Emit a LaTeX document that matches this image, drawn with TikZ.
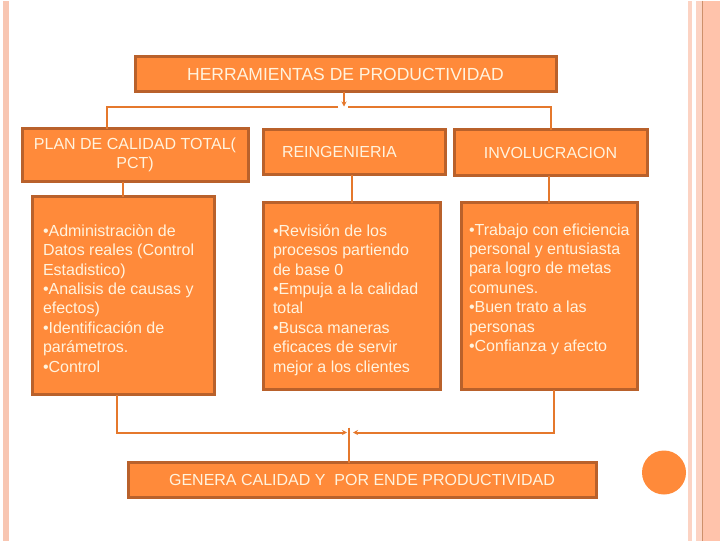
\documentclass[tikz,border=0pt]{standalone}
\usepackage{fontspec}
\setmainfont{Liberation Sans}
\usetikzlibrary{arrows.meta, positioning, calc}
\definecolor{cnaranja}{HTML}{FF8A3A}
\definecolor{cborde}{HTML}{B9612B}
\definecolor{clinea}{HTML}{E5782C}
\definecolor{ctexto}{HTML}{FFF3DE}
\definecolor{crosa}{HTML}{F8C6B2}
\definecolor{crosaclaro}{HTML}{FCD3C3}
\definecolor{crosamedio}{HTML}{FFC3AB}
\tikzset{
  every picture/.style={font=\fontsize{16}{19.4}\selectfont, line width=2pt},
  caja/.style={draw=cborde, fill=cnaranja, line width=3pt, text=ctexto, align=center, inner sep=0pt, outer sep=0pt},
  texto/.style={text=ctexto, align=left, inner sep=0pt},
  linea/.style={draw=clinea, line width=2pt},
  flecha/.style={-{Stealth[length=5pt, width=5pt]}, draw=clinea, line width=2pt},
  titulo/.style={font=\fontsize{17.5}{21}\selectfont},
}

\begin{document}
\begin{tikzpicture}[x=1pt, y=-1pt]
  \fill[white] (0,0) rectangle (720,540);
  \fill[crosa] (3,0) rectangle (9,540);
  \fill[crosaclaro] (688,0) rectangle (692,540);
  \fill[crosaclaro] (696,0) rectangle (702,540);
  \fill[crosamedio] (702,0) rectangle (720,540);
  \draw[cborde!70, line width=1pt] (702.5,0) -- (702.5,540);
  \useasboundingbox (0,0) rectangle (720,540);

  \node[caja, titulo, minimum width=421pt, minimum height=35pt] (herr) at (345.5,73.5) {HERRAMIENTAS DE PRODUCTIVIDAD};
  \node[caja, minimum width=226pt, minimum height=53pt] (plan) at (135,154.5) {PLAN DE CALIDAD TOTAL(\\PCT)};
  \node[caja, minimum width=182pt, minimum height=45pt, text width=144pt, align=left] (reing) at (354,151.5) {REINGENIERIA};
  \node[caja, minimum width=193pt, minimum height=46pt] (invol) at (550.5,152) {INVOLUCRACION};

  \node[caja, minimum width=182pt, minimum height=198pt] (d1) at (123,295) {};
  \node[caja, minimum width=177pt, minimum height=187pt] (d2) at (351.5,295.5) {};
  \node[caja, minimum width=176pt, minimum height=187pt] (d3) at (549,295.5) {};
  \node[texto, below right=27pt and 10pt of d1.north west] (t1) {•Administraciòn de\\Datos reales (Control\\Estadistico)\\•Analisis de causas y\\efectos)\\•Identificación de\\parámetros.\\•Control};
  \node[texto, below right=21pt and 9pt of d2.north west] (t2) {•Revisión de los\\procesos partiendo\\de base 0\\•Empuja a la calidad\\total\\•Busca maneras\\eficaces de servir\\mejor a los clientes};
  \node[texto, below right=20pt and 7pt of d3.north west] (t3) {•Trabajo con eficiencia\\personal y entusiasta\\para logro de metas\\comunes.\\•Buen trato a las\\personas\\•Confianza y afecto};

  \node[caja, minimum width=468pt, minimum height=35pt] (genera) at (362,479.5) {GENERA CALIDAD Y\ \ POR ENDE PRODUCTIVIDAD};
  \fill[cnaranja] (664,472) circle[radius=22pt];

  \coordinate (ramal) at (344,106);
  \coordinate (junta) at (349,432);
  \draw[flecha] (herr.south -| ramal) -- (ramal);
  \draw[linea] ([xshift=-6pt]ramal) -| ([xshift=-28pt]plan.north);
  \draw[linea] ([xshift=4pt]ramal) -| (invol.north);
  \draw[linea] (d1.north |- plan.south) -- (d1.north);
  \draw[linea] (d2.north |- reing.south) -- (d2.north);
  \draw[linea] (d3.north |- invol.south) -- (d3.north);
  \draw[flecha] ([xshift=-6pt]d1.south) |- ([xshift=-2pt]junta);
  \draw[flecha] ([xshift=5pt]d3.south) |- ([xshift=4pt]junta);
  \draw[linea] ([yshift=5pt]junta) -- (genera.north -| junta);
\end{tikzpicture}
\end{document}
